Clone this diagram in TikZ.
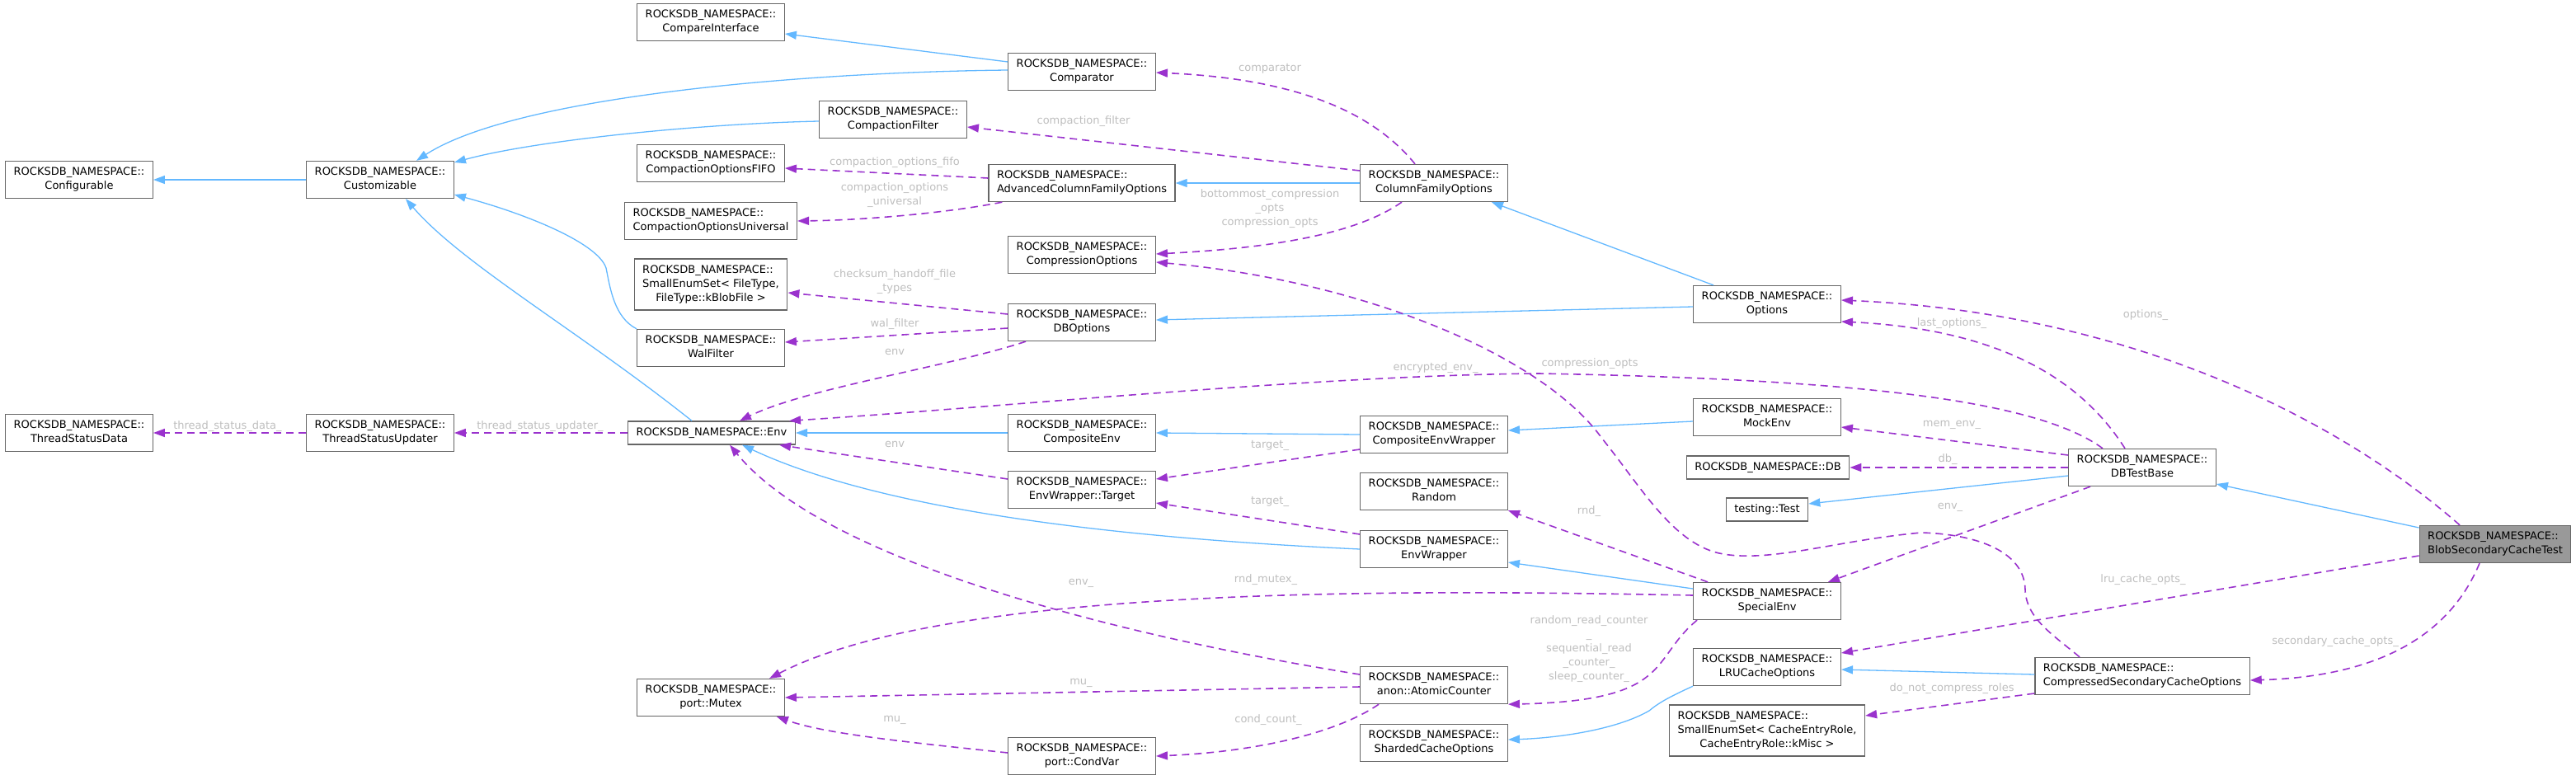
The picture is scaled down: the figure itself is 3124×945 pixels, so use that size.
\documentclass[tikz,border=0pt]{standalone}
\usepackage{fontspec}
\setmainfont{DejaVu Sans}
\usetikzlibrary{arrows.meta,calc}
\definecolor{inhblue}{HTML}{63B8FF}
\definecolor{usepurple}{HTML}{9A32CD}
\definecolor{boxgray}{HTML}{666666}
\definecolor{lblgray}{HTML}{BEBEBE}
\definecolor{hlfill}{HTML}{999999}
\newcommand\nodefont{\fontsize{13}{17}\selectfont}
\newcommand\nsb[1]{\begin{tabular}{@{}c@{}}\multicolumn{1}{@{}l@{}}{ROCKSDB\_NAMESPACE::}\\#1\end{tabular}}
\newcommand\nsbiii[2]{\begin{tabular}{@{}c@{}}\multicolumn{1}{@{}l@{}}{ROCKSDB\_NAMESPACE::}\\\multicolumn{1}{@{}l@{}}{#1}\\#2\end{tabular}}
\tikzset{
  cls/.style={draw=boxgray, line width=1.3pt, fill=white, inner xsep=10pt, inner ysep=2pt, minimum height=45pt, font=\nodefont, text=black},
  clsone/.style={cls, minimum height=28pt},
  clsthree/.style={cls, minimum height=62pt},
  inh/.style={draw=inhblue, line width=1.3pt, -{Triangle[length=14pt,width=10pt]}},
  use/.style={draw=usepurple, line width=1.6pt, dash pattern=on 9pt off 6pt, -{Triangle[length=14pt,width=10pt]}},
  lbl/.style={text=lblgray, font=\nodefont, inner sep=0pt, align=center},
}
\begin{document}
\begin{tikzpicture}[x=1pt,y=-1pt]
\useasboundingbox (0,0) rectangle (3124,945);
% nodes
\node[cls] (conf) at (96,218) {\nsb{Configurable}};
\node[cls] (cust) at (461,218) {\nsb{Customizable}};
\node[cls] (cmpif) at (862,27) {\nsb{CompareInterface}};
\node[cls] (comp) at (1312,87) {\nsb{Comparator}};
\node[cls] (cfilt) at (1083,145) {\nsb{CompactionFilter}};
\node[cls] (fifo) at (862,198) {\nsb{CompactionOptionsFIFO}};
\node[cls] (acfo) at (1312,222) {\nsb{AdvancedColumnFamilyOptions}};
\node[cls] (univ) at (862,268) {\nsb{CompactionOptionsUniversal}};
\node[cls] (compr) at (1312,309) {\nsb{CompressionOptions}};
\node[clsthree] (sesft) at (862,345) {\nsbiii{SmallEnumSet< FileType,}{FileType::kBlobFile >}};
\node[cls] (dbo) at (1312,391) {\nsb{DBOptions}};
\node[cls] (wal) at (862,422) {\nsb{WalFilter}};
\node[cls] (tsd) at (96,525) {\nsb{ThreadStatusData}};
\node[cls] (tsu) at (461,525) {\nsb{ThreadStatusUpdater}};
\node[clsone] (env) at (863,525) {ROCKSDB\_NAMESPACE::Env};
\node[cls] (mutex) at (862,846) {\nsb{port::Mutex}};
\node[cls] (cenv) at (1312,525) {\nsb{CompositeEnv}};
\node[cls] (target) at (1312,594) {\nsb{EnvWrapper::Target}};
\node[cls] (condvar) at (1312,917) {\nsb{port::CondVar}};
\node[cls] (cfo) at (1739,222) {\nsb{ColumnFamilyOptions}};
\node[cls] (opts) at (2143,369) {\nsb{Options}};
\node[cls] (cew) at (1739,527) {\nsb{CompositeEnvWrapper}};
\node[cls] (mock) at (2143,506) {\nsb{MockEnv}};
\node[clsone] (db) at (2144,567) {ROCKSDB\_NAMESPACE::DB};
\node[clsone] (test) at (2143,618) {testing::Test};
\node[cls] (random) at (1739,596) {\nsb{Random}};
\node[cls] (envw) at (1739,666) {\nsb{EnvWrapper}};
\node[cls] (special) at (2143,729) {\nsb{SpecialEnv}};
\node[cls] (atomic) at (1739,831) {\nsb{anon::AtomicCounter}};
\node[cls] (sharded) at (1739,901) {\nsb{ShardedCacheOptions}};
\node[cls] (lru) at (2143,809) {\nsb{LRUCacheOptions}};
\node[clsthree] (seser) at (2143,886) {\nsbiii{SmallEnumSet< CacheEntryRole,}{CacheEntryRole::kMisc >}};
\node[cls] (dbtb) at (2598,567) {\nsb{DBTestBase}};
\node[cls, fill=hlfill] (blob) at (3026,660) {\nsb{BlobSecondaryCacheTest}};
\node[cls] (csco) at (2598,820) {\nsb{CompressedSecondaryCacheOptions}};
% inheritance
\draw[inh] (cust.west) -- (conf.east);
\draw[inh] ($(comp.west)+(0,-12)$) -- ($(cmpif.east)+(0,14)$);
\draw[inh] ($(comp.west)+(0,-2)$) .. controls (950,88) and (620,120) .. ($(cust.north)+(44,0)$);
\draw[inh] ($(cfilt.west)+(0,2)$) .. controls (850,150) and (650,170) .. ($(cust.east)+(0,-21)$);
\draw[inh] (wal.north west) .. controls (745,385) and (740,350) .. (735,325) .. controls (725,295) and (640,260) .. ($(cust.east)+(0,18)$);
\draw[inh] ($(env.north)+(-24,0)$) .. controls (700,400) and (560,320) .. ($(cust.south)+(31,0)$);
\draw[inh] (cenv.west) -- (env.east);
\draw[inh] (envw.west) .. controls (1300,650) and (1050,610) .. ($(env.south)+(37,0)$);
\draw[inh] (cew.west) -- (cenv.east);
\draw[inh] (cfo.west) -- (acfo.east);
\draw[inh] ($(opts.north)+(-65,0)$) -- ($(cfo.south east)+(-20,0)$);
\draw[inh] ($(opts.west)+(0,3)$) -- ($(dbo.east)+(0,-3)$);
\draw[inh] ($(mock.west)+(0,5)$) -- ($(cew.east)+(0,-5)$);
\draw[inh] ($(special.west)+(0,-15)$) -- ($(envw.east)+(0,16)$);
\draw[inh] ($(dbtb.west)+(0,10)$) -- ($(test.east)+(0,-7)$);
\draw[inh] ($(blob.west)+(0,-20)$) -- ($(dbtb.east)+(0,20)$);
\draw[inh] ($(csco.west)+(0,-2)$) -- ($(lru.east)+(0,3)$);
\draw[inh] (lru.south west) .. controls (2025,845) and (2012,852) .. (2000,862) .. controls (1960,885) and (1890,895) .. ($(sharded.east)+(0,-4)$);
% usage
\draw[use] (tsu.west) -- (tsd.east);
\draw[use] (env.west) -- (tsu.east);
\draw[use] ($(cfo.north)+(-23,0)$) .. controls (1660,130) and (1560,95) .. ($(comp.east)+(0,1)$);
\draw[use] ($(cfo.west)+(0,-15)$) -- ($(cfilt.east)+(0,9)$);
\draw[use] ($(acfo.west)+(0,-6)$) -- ($(fifo.east)+(0,6)$);
\draw[use] ($(acfo.south west)+(17,0)$) .. controls (1150,258) and (1050,267) .. (univ.east);
\draw[use] ($(cfo.south)+(-39,0)$) .. controls (1650,280) and (1560,300) .. ($(compr.east)+(0,-1)$);
\draw[use] ($(csco.north)+(-76,0)$) .. controls (2490,770) and (2457,750) .. (2456,715) .. controls (2455,670) and (2400,648) .. (2330,646) .. controls (2230,655) and (2150,682) .. (2090,672) .. controls (2030,662) and (1990,590) .. (1943,532) .. controls (1870,430) and (1650,340) .. ($(compr.east)+(0,9)$);
\draw[use] ($(dbo.west)+(0,-10)$) -- ($(sesft.east)+(0,10)$);
\draw[use] ($(dbo.west)+(0,7)$) -- ($(wal.east)+(0,-7)$);
\draw[use] ($(dbo.south)+(-68,0)$) .. controls (1150,445) and (980,470) .. ($(env.north)+(34,0)$);
\draw[use] ($(dbtb.north)+(-48,0)$) .. controls (2470,485) and (2250,460) .. (1866,453) .. controls (1600,455) and (1200,495) .. ($(env.north east)+(-8,0)$);
\draw[use] ($(dbtb.north)+(-21,0)$) .. controls (2530,470) and (2440,400) .. ($(opts.east)+(0,21)$);
\draw[use] ($(blob.north)+(-43,0)$) .. controls (2850,520) and (2600,380) .. ($(opts.east)+(0,-5)$);
\draw[use] ($(dbtb.west)+(0,-15)$) -- ($(mock.east)+(0,12)$);
\draw[use] (dbtb.west) -- (db.east);
\draw[use] ($(dbtb.south west)+(27,0)$) -- ($(special.north east)+(-16,0)$);
\draw[use] ($(cew.west)+(0,18)$) -- ($(target.east)+(0,-13)$);
\draw[use] ($(envw.west)+(0,-18)$) -- ($(target.east)+(0,16)$);
\draw[use] ($(target.west)+(0,-13)$) -- ($(env.south east)+(-20,0)$);
\draw[use] ($(special.north west)+(18,0)$) -- (random.south east);
\draw[use] ($(special.west)+(0,-7)$) .. controls (1700,715) and (1150,710) .. ($(mutex.north)+(71,0)$);
\draw[use] ($(atomic.west)+(0,-13)$) .. controls (1350,770) and (1000,680) .. ($(env.south)+(22,0)$);
\draw[use] ($(atomic.west)+(0,2)$) -- (mutex.east);
\draw[use] ($(condvar.west)+(0,-4)$) .. controls (1100,900) and (1000,890) .. ($(mutex.south east)+(-10,0)$);
\draw[use] ($(atomic.south west)+(23,0)$) .. controls (1620,890) and (1520,912) .. (condvar.east);
\draw[use] ($(special.south west)+(5,0)$) .. controls (2000,800) and (2030,850) .. (atomic.south east);
\draw[use] ($(blob.west)+(0,14)$) -- ($(lru.east)+(0,-17)$);
\draw[use] ($(blob.south)+(-19,0)$) .. controls (2975,760) and (2900,820) .. ($(csco.east)+(0,5)$);
\draw[use] ($(csco.west)+(0,21)$) -- ($(seser.east)+(0,-18)$);
% labels
\node[lbl] (l1) at (276,517) {thread\_status\_data\_};
\node[lbl] (l2) at (655,517) {thread\_status\_updater\_};
\node[lbl] (l3) at (1540,83) {comparator};
\node[lbl] (l4) at (1314,147) {compaction\_filter};
\node[lbl] (l5) at (1085,197) {compaction\_options\_fifo};
\node[lbl] (l6) at (1085,237) {compaction\_options\\\_universal};
\node[lbl] (l7) at (1540,253) {bottommost\_compression\\\_opts\\compression\_opts};
\node[lbl] (l8) at (1928,441) {compression\_opts};
\node[lbl] (l9) at (1085,342) {checksum\_handoff\_file\\\_types};
\node[lbl] (l10) at (1085,393) {wal\_filter};
\node[lbl] (l11) at (1085,427) {env};
\node[lbl] (l12) at (1741,446) {encrypted\_env\_};
\node[lbl] (l13) at (2367,392) {last\_options\_};
\node[lbl] (l14) at (2602,382) {options\_};
\node[lbl] (l15) at (2367,515) {mem\_env\_};
\node[lbl] (l16) at (2362,557) {db\_};
\node[lbl] (l17) at (2365,615) {env\_};
\node[lbl] (l18) at (1540,540) {target\_};
\node[lbl] (l19) at (1540,608) {target\_};
\node[lbl] (l20) at (1085,539) {env};
\node[lbl] (l21) at (1927,620) {rnd\_};
\node[lbl] (l22) at (1535,703) {rnd\_mutex\_};
\node[lbl] (l23) at (1311,707) {env\_};
\node[lbl] (l24) at (1311,828) {mu\_};
\node[lbl] (l25) at (1085,873) {mu\_};
\node[lbl] (l26) at (1538,873) {cond\_count\_};
\node[lbl] (l27) at (1927,787) {random\_read\_counter\\\_\\sequential\_read\\\_counter\_\\sleep\_counter\_};
\node[lbl] (l28) at (2599,703) {lru\_cache\_opts\_};
\node[lbl] (l29) at (2832,778) {secondary\_cache\_opts\_};
\node[lbl] (l30) at (2367,835) {do\_not\_compress\_roles};
\end{tikzpicture}
\end{document}
